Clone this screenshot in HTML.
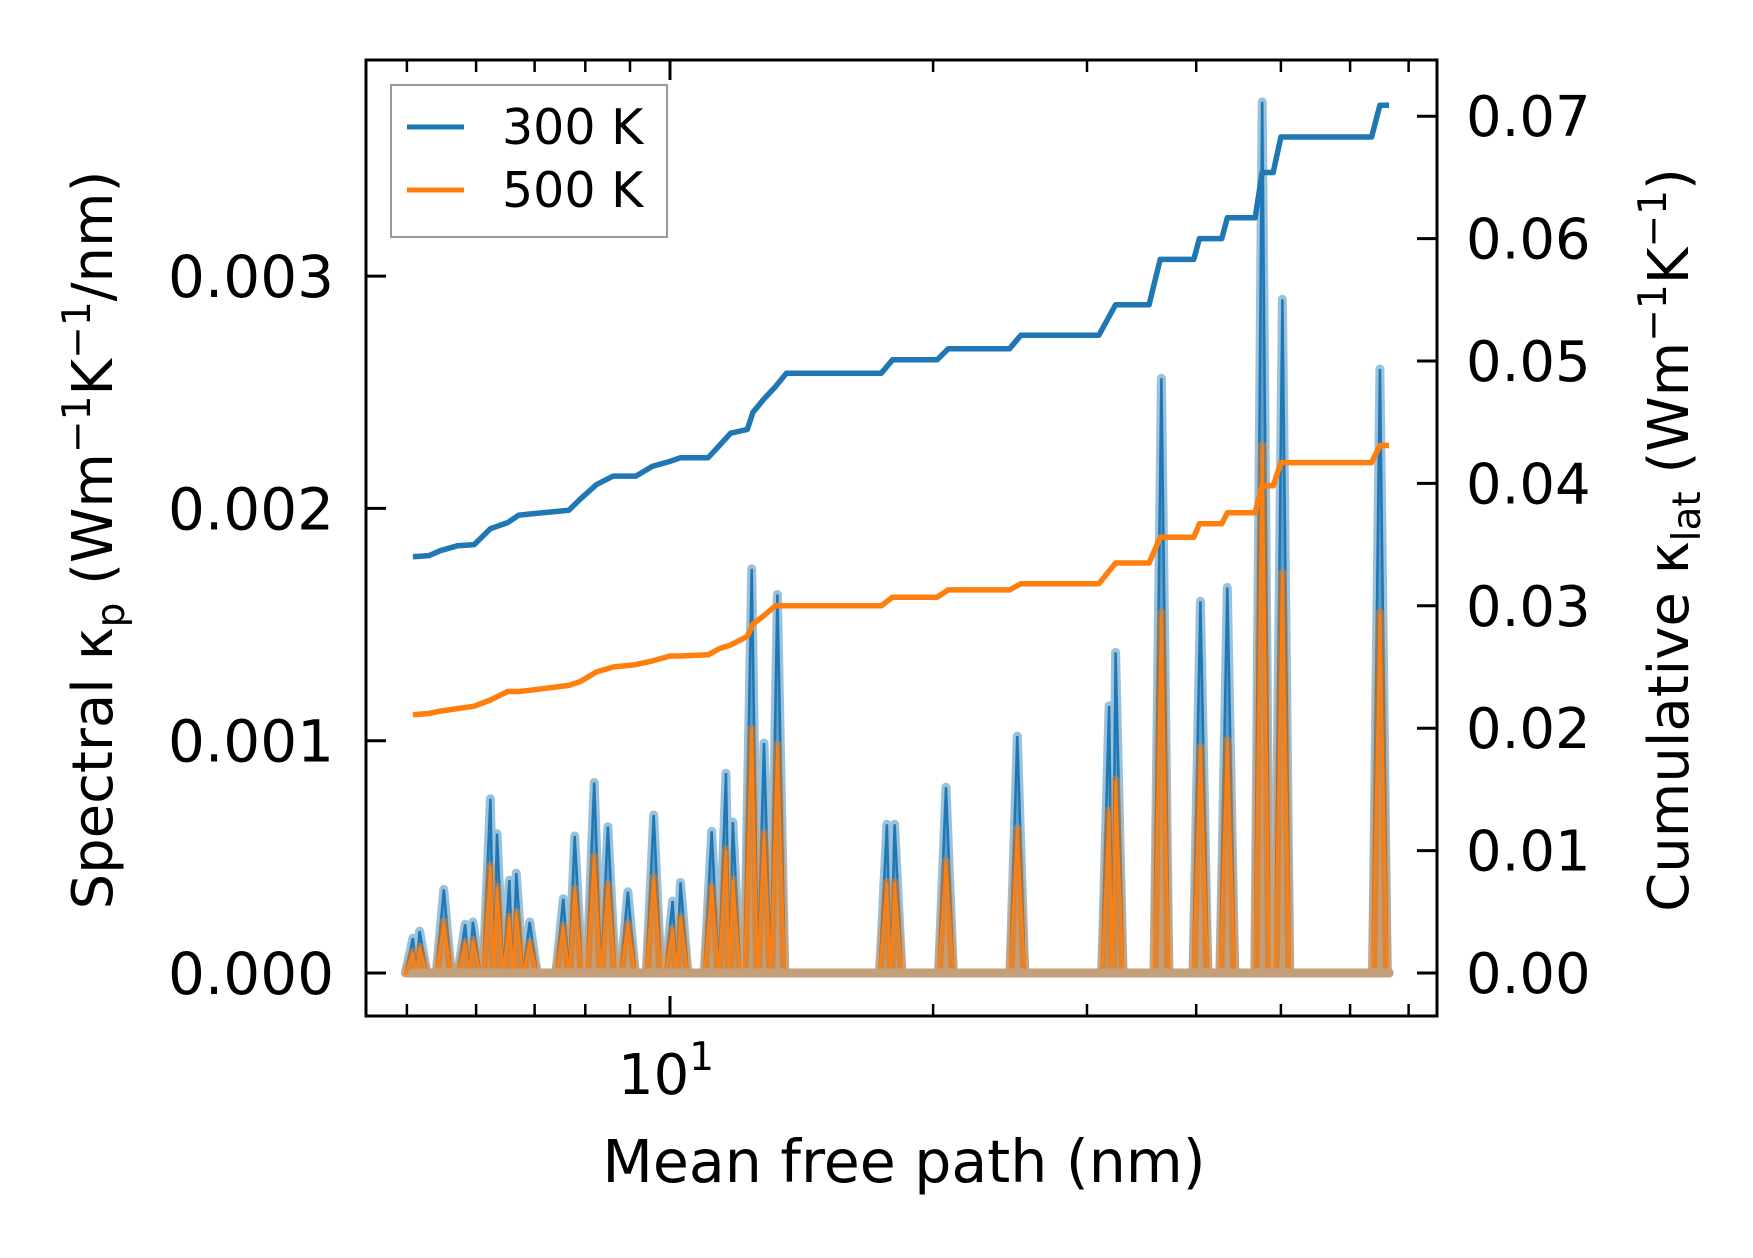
<!DOCTYPE html>
<html><head><meta charset="utf-8">
<style>
html,body{margin:0;padding:0;background:#fff;}
svg text{font-family:"DejaVu Sans","Liberation Sans",sans-serif;fill:#000;}
</style></head>
<body>
<svg id="chart" width="1753" height="1253" viewBox="0 0 1753 1253" xmlns="http://www.w3.org/2000/svg">
<rect x="0" y="0" width="1753" height="1253" fill="#fff"/>
<g id="plot"></g>
<rect x="366" y="60" width="1071" height="956" fill="none" stroke="#000" stroke-width="3"/>
<g id="ticks"></g>
<text x="904" y="1182" font-size="58.5" text-anchor="middle">Mean free path (nm)</text>
<text transform="translate(112,540) rotate(-90)" font-size="56" text-anchor="middle">Spectral κ<tspan font-size="39" dy="12">p</tspan><tspan dy="-12"> (Wm</tspan><tspan font-size="39" dy="-22">−1</tspan><tspan dy="22">K</tspan><tspan font-size="39" dy="-22">−1</tspan><tspan dy="22">/nm)</tspan></text>
<text transform="translate(1688,540) rotate(-90)" font-size="56" text-anchor="middle">Cumulative κ<tspan font-size="39" dy="12">lat</tspan><tspan dy="-12"> (Wm</tspan><tspan font-size="39" dy="-22">−1</tspan><tspan dy="22">K</tspan><tspan font-size="39" dy="-22">−1</tspan><tspan dy="22">)</tspan></text>
<g>
<rect x="391" y="85" width="276" height="152" fill="#fff" fill-opacity="0.8" stroke="#999" stroke-width="2"/>
<line x1="407" y1="127" x2="464" y2="127" stroke="#1f77b4" stroke-width="5"/>
<text x="502" y="144" font-size="49">300 K</text>
<line x1="407" y1="190" x2="464" y2="190" stroke="#ff7f0e" stroke-width="5"/>
<text x="502" y="207" font-size="49">500 K</text>
</g>
</svg>
<script>
// spectral data
const spikeMfp = [5.08,5.17,5.51,5.83,5.95,6.23,6.34,6.55,6.67,6.91,7.55,7.78,8.19,8.49,8.95,9.58,10.07,10.28,11.16,11.59,11.80,12.40,12.81,13.27,17.71,18.07,20.69,24.97,31.80,32.35,36.50,40.45,43.42,47.6,50.2,64.9];
const spectral300 = [0.00015,0.00018,0.00036,0.00021,0.00022,0.00075,0.00060,0.00040,0.00043,0.00022,0.00032,0.00059,0.00082,0.00063,0.00035,0.00068,0.00031,0.00039,0.00061,0.00086,0.00065,0.00174,0.00099,0.00163,0.00064,0.00064,0.00080,0.00102,0.00115,0.00138,0.00256,0.00160,0.00166,0.00375,0.00290,0.00260];
const spectral500 = [0.00009,0.00011,0.00022,0.00013,0.00014,0.00046,0.00037,0.00024,0.00026,0.00013,0.00020,0.00036,0.00050,0.00038,0.00021,0.00041,0.00019,0.00024,0.00037,0.00053,0.00040,0.00105,0.00060,0.00098,0.00039,0.00039,0.00048,0.00062,0.00070,0.00083,0.00155,0.00097,0.00100,0.00227,0.00172,0.00155];
// cumulative data
const cumMfp = [5.08,5.30,5.46,5.71,5.97,6.23,6.52,6.71,6.91,7.66,7.89,8.24,8.61,9.14,9.55,10.0,10.28,11.06,11.39,11.73,12.26,12.44,12.81,13.20,13.59,17.45,17.97,20.21,20.81,24.46,25.20,30.95,32.35,35.33,36.38,39.75,40.34,42.79,43.42,46.72,47.6,49.0,50.0,63.5,64.9,66.5];
const cum300 = [0.0340,0.0341,0.0345,0.0349,0.0350,0.0363,0.0368,0.0374,0.0375,0.0378,0.0387,0.0399,0.0406,0.0406,0.0414,0.0418,0.0421,0.0421,0.0431,0.0441,0.0444,0.0458,0.0469,0.0479,0.0490,0.0490,0.0501,0.0501,0.0510,0.0510,0.0521,0.0521,0.0546,0.0546,0.0583,0.0583,0.0600,0.0600,0.0617,0.0617,0.0654,0.0654,0.0683,0.0683,0.0709,0.0709];
const cum500 = [0.0211,0.0212,0.0214,0.0216,0.0218,0.0223,0.0230,0.0230,0.0231,0.0235,0.0238,0.0246,0.0250,0.0252,0.0255,0.0259,0.0259,0.0260,0.0265,0.0268,0.0275,0.0285,0.0292,0.0300,0.0300,0.0300,0.0307,0.0307,0.0313,0.0313,0.0318,0.0318,0.0335,0.0335,0.0356,0.0356,0.0367,0.0367,0.0376,0.0376,0.0398,0.0398,0.0417,0.0417,0.0431,0.0431];
const leftTicks = [0, 0.001, 0.002, 0.003];
const leftTickLabels = ["0.000","0.001","0.002","0.003"];
const rightTicks = [0,0.01,0.02,0.03,0.04,0.05,0.06,0.07];
const rightTickLabels = ["0.00","0.01","0.02","0.03","0.04","0.05","0.06","0.07"];
const xMinorTicks = [5,6,7,8,9,20,30,40,50,60,70];
const xMajorTicks = [10];

const NS = "http://www.w3.org/2000/svg";
const XL = lg => 670 + 874*(lg - 1);
const X = v => XL(Math.log10(v));
const YL = v => 973 - v*232300;
const YR = v => 973 - v*12240;
const plot = document.getElementById('plot');
const ticks = document.getElementById('ticks');
function mk(tag, attrs, parent){
  const e = document.createElementNS(NS, tag);
  for (const k in attrs) e.setAttribute(k, attrs[k]);
  parent.appendChild(e); return e;
}
function spikePts(vals){
  const pts = [];
  const hw = 0.0085;
  const n = spikeMfp.length;
  const first = spikeMfp[0], last = cumMfp[cumMfp.length-1];
  pts.push([X(first), YL(0)]);
  for (let i=0;i<n;i++){
    const lx = Math.log10(spikeMfp[i]);
    const prev = i>0 ? Math.log10(spikeMfp[i-1]) : -9;
    if (lx - prev > 2*hw) pts.push([XL(lx-hw), YL(0)]);
    else if (i>0) pts.push([XL((lx+prev)/2), YL(0)]);
    pts.push([X(spikeMfp[i]), YL(vals[i])]);
    const nxt = i<n-1 ? Math.log10(spikeMfp[i+1]) : 9;
    if (nxt - lx > 2*hw) pts.push([XL(lx+hw), YL(0)]);
  }
  pts.push([X(last), YL(0)]);
  return pts;
}
function drawSpectral(vals, color, name){
  const pts = spikePts(vals);
  const d = pts.map((p,i)=>(i?'L':'M')+p[0].toFixed(1)+','+p[1].toFixed(1)).join('');
  const f = mk('path',{d:d+'Z', fill:color, 'fill-opacity':0.5, stroke:color, 'stroke-opacity':0.45, 'stroke-width':9, 'stroke-linejoin':'round', 'stroke-linecap':'round'}, plot);
  
  
  const l = mk('path',{d:d, fill:'none', stroke:color, 'stroke-width':2.5}, plot);
  
  
}
drawSpectral(spectral300, '#1f77b4', 'spectral-300k');
drawSpectral(spectral500, '#ff7f0e', 'spectral-500k');
const base = mk('line',{x1:X(spikeMfp[0]), x2:X(cumMfp[cumMfp.length-1]), y1:YL(0), y2:YL(0), stroke:'#c4a07a', 'stroke-width':9, 'stroke-linecap':'round'}, plot);


function drawCum(vals, color, name){
  const d = cumMfp.map((m,i)=>(i?'L':'M')+X(m).toFixed(1)+','+YR(vals[i]).toFixed(1)).join('');
  const p = mk('path',{d:d, fill:'none', stroke:color, 'stroke-width':5.5, 'stroke-linejoin':'round'}, plot);
  
  
}
drawCum(cum300, '#1f77b4', 'cumulative-300k');
drawCum(cum500, '#ff7f0e', 'cumulative-500k');

leftTicks.forEach((v,i)=>{
  const y = YL(v);
  const t = mk('line',{x1:366,x2:386,y1:y,y2:y,stroke:'#000','stroke-width':3}, ticks);
  
  
  const tx = mk('text',{x:334,y:y+21,'font-size':58,'text-anchor':'end'}, ticks);
  tx.textContent = leftTickLabels[i];
  
  
});
rightTicks.forEach((v,i)=>{
  const y = YR(v);
  const t = mk('line',{x1:1417,x2:1437,y1:y,y2:y,stroke:'#000','stroke-width':3}, ticks);
  
  
  const tx = mk('text',{x:1466,y:y+20,'font-size':56}, ticks);
  tx.textContent = rightTickLabels[i];
  
  
});
xMinorTicks.forEach(v=>{
  const x = X(v);
  const b = mk('line',{x1:x,x2:x,y1:1016,y2:1004,stroke:'#000','stroke-width':2.5}, ticks);
  
  
  const t = mk('line',{x1:x,x2:x,y1:60,y2:72,stroke:'#000','stroke-width':2.5}, ticks);
  
  
});
xMajorTicks.forEach(v=>{
  const x = X(v);
  const b = mk('line',{x1:x,x2:x,y1:1016,y2:996,stroke:'#000','stroke-width':3}, ticks);
  
  
  const t = mk('line',{x1:x,x2:x,y1:60,y2:80,stroke:'#000','stroke-width':3}, ticks);
  
  
  const tx = mk('text',{x:x-4,y:1094,'font-size':56,'text-anchor':'middle'}, ticks);
  tx.innerHTML = '10<tspan font-size="39" dy="-24">1</tspan>';
  
  
});
</script>
</body></html>
